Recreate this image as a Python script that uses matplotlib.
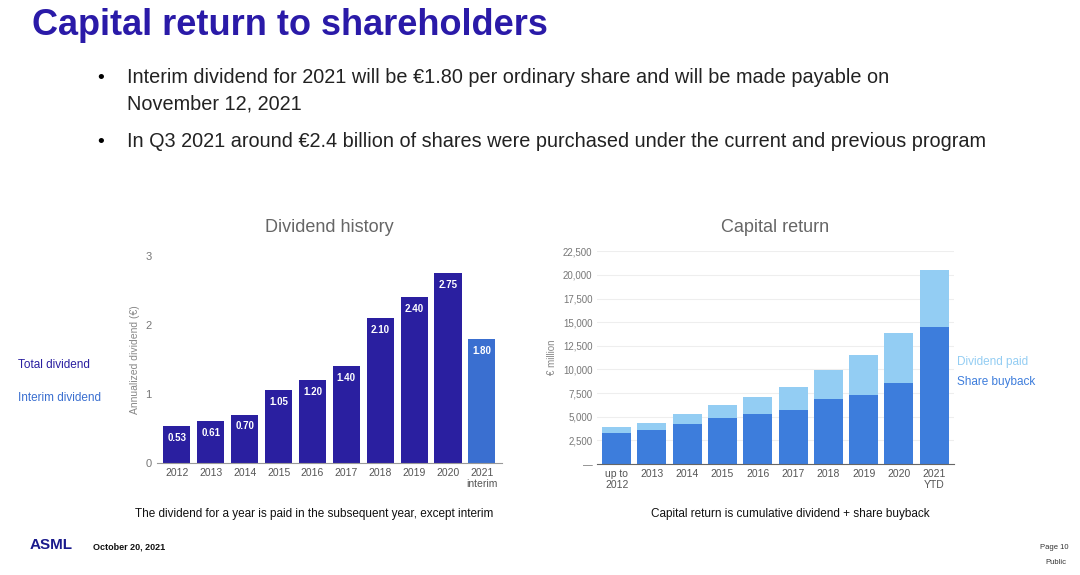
import numpy as np
import matplotlib.pyplot as plt

plt.rcParams['font.family'] = ['Liberation Sans', 'DejaVu Sans']

years=['2012','2013','2014','2015','2016','2017','2018','2019','2020','2021\ninterim']
divs=[0.53,0.61,0.70,1.05,1.20,1.40,2.10,2.40,2.75,1.80]
cap_years=['up to\n2012','2013','2014','2015','2016','2017','2018','2019','2020','2021\nYTD']
buyback=[3310,3560,4270,4910,5270,5730,6840,7340,8550,14490]
total=[3920,4380,5340,6230,7090,8150,9900,11540,13850,20550]
dividend=np.array(total)-np.array(buyback)

fig=plt.figure(figsize=(10.8,5.75),dpi=100)
fig.text(0.03,0.955,'Capital return to shareholders',fontsize=26,fontweight='bold',color='#2a1aa8',va='center')
fig.text(0.09,0.855,'•',fontsize=14)
fig.text(0.118,0.855,'Interim dividend for 2021 will be €1.80 per ordinary share and will be made payable on',fontsize=14.3,color='#222222')
fig.text(0.118,0.81,'November 12, 2021',fontsize=14.3,color='#222222')
fig.text(0.09,0.745,'•',fontsize=14)
fig.text(0.118,0.745,'In Q3 2021 around €2.4 billion of shares were purchased under the current and previous program',fontsize=14.3,color='#222222')

#left chart
ax1=fig.add_axes([0.145,0.195,0.32,0.36])
cols=['#2a1fa0']*9+['#3a6fd0']
ax1.bar(np.arange(10),divs,width=0.8,color=cols)
for i,v in enumerate(divs):
	ax1.text(i,v-0.1,'%.2f'%v,ha='center',va='top',color='white',fontsize=7,fontweight='bold')
ax1.set_xticks(np.arange(10))
ax1.set_xticklabels(years,fontsize=7.5,color='#555555',va='top')
ax1.set_yticks([0,1,2,3])
ax1.set_ylim(0,3)
ax1.set_xlim(-0.6,9.6)
ax1.tick_params(axis='y',labelsize=8,colors='#777777',length=0)
ax1.tick_params(axis='x',length=0)
for s in ax1.spines.values():
	s.set_visible(False)
ax1.spines['bottom'].set_visible(True)
ax1.spines['bottom'].set_color('#999999')
ax1.set_ylabel('Annualized dividend (€)',fontsize=7.5,color='#888888')
ax1.set_title('Dividend history',fontsize=13,color='#666666',pad=17)
fig.text(0.017,0.36,'Total dividend',fontsize=8.5,color='#2a1fa0')
fig.text(0.017,0.302,'Interim dividend',fontsize=8.5,color='#3a6fd0')
fig.text(0.125,0.1,'The dividend for a year is paid in the subsequent year, except interim',fontsize=8.5,color='#111111')

#right chart
ax2=fig.add_axes([0.553,0.193,0.33,0.37])
x=np.arange(10)
ax2.bar(x,buyback,width=0.82,color='#3d7ddc')
ax2.bar(x,dividend,width=0.82,bottom=buyback,color='#93cdf3')
ax2.set_ylim(0,22500)
ax2.set_xlim(-0.55,9.55)
ax2.set_yticks(np.arange(0,22501,2500))
ax2.set_yticklabels(['—']+['{:,}'.format(v) for v in range(2500,22501,2500)])
ax2.grid(axis='y',color='#eeeeee',lw=0.8)
ax2.set_axisbelow(True)
ax2.set_xticks(x)
ax2.set_xticklabels(cap_years,fontsize=7.5,color='#555555')
ax2.tick_params(axis='y',labelsize=7,colors='#777777',length=0)
ax2.tick_params(axis='x',length=0)
for s in ax2.spines.values():
	s.set_visible(False)
ax2.spines['bottom'].set_visible(True)
ax2.spines['bottom'].set_color('#666666')
ax2.set_ylabel('€ million',fontsize=7,color='#888888')
ax2.set_title('Capital return',fontsize=13,color='#666666',pad=14)
fig.text(0.886,0.365,'Dividend paid',fontsize=8.5,color='#93cdf3')
fig.text(0.886,0.33,'Share buyback',fontsize=8.5,color='#3d7ddc')
fig.text(0.603,0.1,'Capital return is cumulative dividend + share buyback',fontsize=8.5,color='#111111')

#footer
fig.text(0.027,0.045,'ASML',fontsize=11,fontweight='bold',color='#1a1a8c')
fig.text(0.086,0.045,'October 20, 2021',fontsize=6.5,fontweight='bold',color='#111111')
fig.text(0.963,0.045,'Page 10',fontsize=5.5,color='#333333')
fig.text(0.968,0.02,'Public',fontsize=5.5,color='#333333')

fig.savefig('out.png',dpi=100)
